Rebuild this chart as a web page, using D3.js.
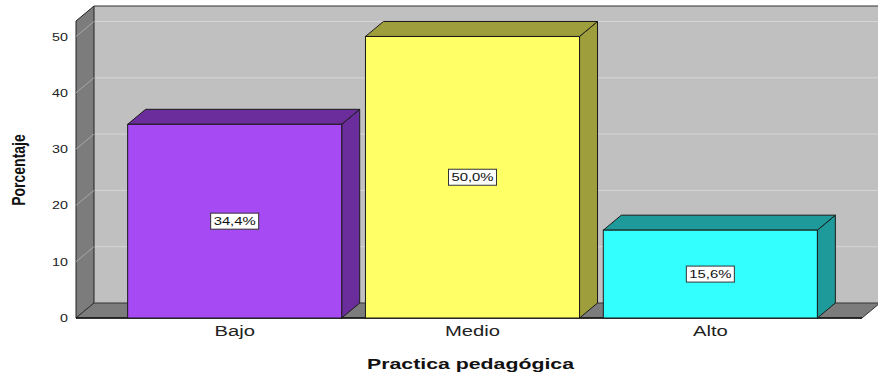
<!DOCTYPE html>
<html><head><meta charset="utf-8">
<script src="https://cdn.jsdelivr.net/npm/d3@7"></script>
<style>body{margin:0;background:#fff}svg{display:block}</style>
</head><body>
<svg id="c" width="878" height="379"></svg>
<script>
const categories = ["Bajo", "Medio", "Alto"];
const values = [34.4, 50.0, 15.6];
const valueLabels = ["34,4%", "50,0%", "15,6%"];
const yTicks = [0, 10, 20, 30, 40, 50];
const frontColors = ["#a64af4", "#ffff66", "#33ffff"];
const sideColors = ["#6c2d9c", "#9e9e3c", "#1f9a9a"];

const FONT = "Liberation Sans, Arial, sans-serif";
const SX = 1.35;
const svg = d3.select("#c");
const W = 878;
const DX = 18, DY = -15;
const x0 = 76, xRight = 862, yBase = 318;
const y = d3.scaleLinear().domain([0, 52.75]).range([yBase, 21]);
const x = d3.scaleBand().domain(categories).range([115.75, 829.25]).paddingInner(0.1).paddingOuter(0.05);

function stretch(sel, f, anchor) {
  sel.each(function(){
    const el = d3.select(this);
    const ax = anchor != null ? anchor : +el.attr("x") || 0;
    const prev = el.attr("transform") || "";
    el.attr("transform", `${prev} translate(${ax},0) scale(${f},1) translate(${-ax},0)`);
  });
}

const g = svg.append("g");
const line = d3.line();
// back wall
g.append("path").attr("d", line([[x0+DX, y(52.75)+DY],[W+5, y(52.75)+DY],[W+5, yBase+DY],[x0+DX, yBase+DY]])+"Z")
  .attr("fill", "#c0c0c0");
g.selectAll("line.grid").data(yTicks.filter(t=>t>0)).join("line")
  .attr("x1", x0+DX).attr("x2", W+5)
  .attr("y1", d=>y(d)+DY).attr("y2", d=>y(d)+DY)
  .attr("stroke", "#d6d6d6").attr("stroke-width", 1);
// left wall
g.append("path").attr("d", line([[x0, yBase],[x0, y(52.75)],[x0+DX, y(52.75)+DY],[x0+DX, yBase+DY]])+"Z")
  .attr("fill", "#7c7c7c").attr("stroke", "#222").attr("stroke-width", 1);
g.selectAll("line.diag").data(yTicks.filter(t=>t>0)).join("line")
  .attr("x1", x0).attr("x2", x0+DX)
  .attr("y1", d=>y(d)).attr("y2", d=>y(d)+DY)
  .attr("stroke", "#a8a8a8").attr("stroke-width", 1);
// floor
g.append("path").attr("d", line([[x0, yBase],[x0+DX, yBase+DY],[xRight+DX, yBase+DY],[xRight, yBase]])+"Z")
  .attr("fill", "#7c7c7c").attr("stroke", "#333").attr("stroke-width", 1);
g.append("line").attr("x1", x0+DX).attr("x2", W+5).attr("y1", y(52.75)+DY).attr("y2", y(52.75)+DY)
  .attr("stroke", "#333").attr("stroke-width", 1.2);
g.append("line").attr("x1", x0).attr("x2", xRight).attr("y1", yBase).attr("y2", yBase)
  .attr("stroke", "#111").attr("stroke-width", 1.5);

// bars
const bars = g.selectAll("g.bar").data(categories).join("g").attr("class","bar");
bars.each(function(c, i){
  const b = d3.select(this);
  const xl = x(c), xr = x(c)+x.bandwidth(), yt = y(values[i]);
  b.append("path").attr("d", line([[xr, yBase],[xr, yt],[xr+DX, yt+DY],[xr+DX, yBase+DY]])+"Z")
    .attr("fill", sideColors[i]).attr("stroke", "#1a1a1a").attr("stroke-width", 1);
  b.append("path").attr("d", line([[xl, yt],[xl+DX, yt+DY],[xr+DX, yt+DY],[xr, yt]])+"Z")
    .attr("fill", sideColors[i]).attr("stroke", "#1a1a1a").attr("stroke-width", 1);
  b.append("rect").attr("x", xl).attr("y", yt).attr("width", x.bandwidth()).attr("height", yBase-yt)
    .attr("fill", frontColors[i]).attr("stroke", "#1a1a1a").attr("stroke-width", 1);
  const cx = xl + x.bandwidth()/2, cy = (yt + yBase)/2;
  b.append("rect").attr("x", cx-24).attr("y", cy-8).attr("width", 48).attr("height", 16)
    .attr("fill","#fff").attr("stroke","#333").attr("stroke-width",1);
  const t = b.append("text").attr("x", cx).attr("y", cy+4).attr("text-anchor","middle")
    .attr("font-family",FONT).attr("font-size", 11).attr("fill","#111").text(valueLabels[i]);
  stretch(t, SX);
});

// y axis
const yAxis = d3.axisLeft(y).tickValues(yTicks).tickSize(0).tickPadding(8).tickFormat(d3.format("d"));
const ya = svg.append("g").attr("transform", `translate(${x0},0)`).call(yAxis);
ya.select(".domain").remove();
ya.selectAll("text").attr("font-family",FONT).attr("font-size", 11).attr("fill","#222");
stretch(ya.selectAll("text"), 1.3, -8);

// x axis labels
const xAxis = d3.axisBottom(x).tickSize(0).tickPadding(7);
const xa = svg.append("g").attr("transform", `translate(0,${yBase})`).call(xAxis);
xa.select(".domain").remove();
xa.selectAll("text").attr("font-family",FONT).attr("font-size", 15).attr("fill","#222");
stretch(xa.selectAll("text"), SX, 0);

// titles
const xt = svg.append("text").attr("x", 470.5).attr("y", 369).attr("text-anchor","middle")
  .attr("font-family",FONT).attr("font-weight","bold").attr("font-size", 15).attr("fill","#111")
  .text("Practica pedagógica");
stretch(xt, 1.42);
svg.append("text").attr("transform",`translate(18.5,170) scale(1.3,1) rotate(-90)`).attr("text-anchor","middle")
  .attr("dominant-baseline","central")
  .attr("font-family",FONT).attr("font-weight","bold").attr("font-size", 14).attr("fill","#111")
  .text("Porcentaje");
</script>
</body></html>
